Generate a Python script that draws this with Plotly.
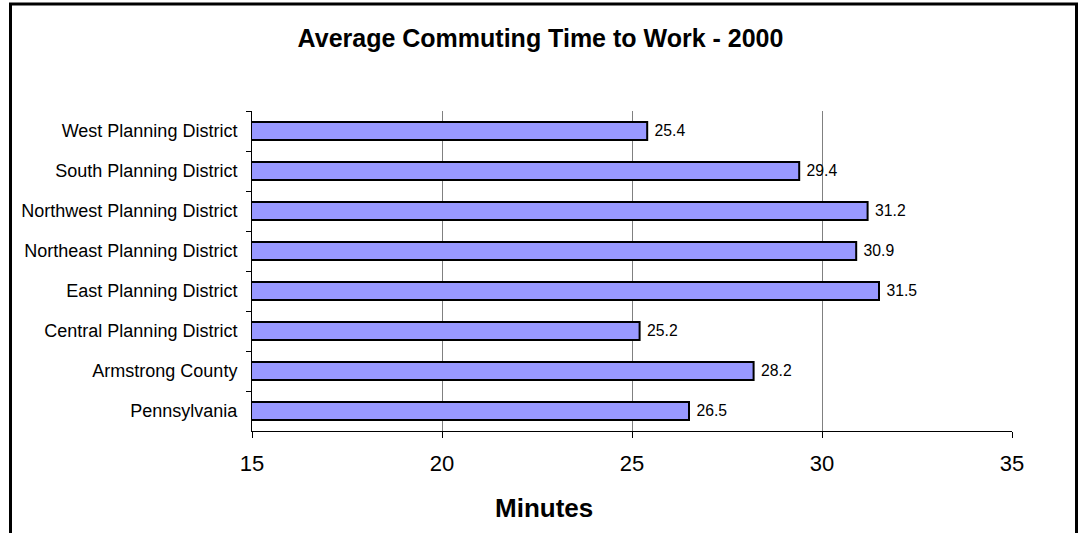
import plotly.graph_objects as go

categories = [
    "West Planning District",
    "South Planning District",
    "Northwest Planning District",
    "Northeast Planning District",
    "East Planning District",
    "Central Planning District",
    "Armstrong County",
    "Pennsylvania",
]
minutes = [25.4, 29.4, 31.2, 30.9, 31.5, 25.2, 28.2, 26.5]
x_ticks = [15, 20, 25, 30, 35]
grid_ticks = [20, 25, 30]

W, H = 1081, 533
L, R, T, B = 252, 1012, 111, 431
pw, ph = R - L, B - T

def px_x(p):
    return (p - L) / pw

def px_y(p):
    return (B - p) / ph

fig = go.Figure()
fig.add_trace(go.Bar(
    y=categories, x=minutes, orientation="h", base=0,
    marker=dict(color="#9999FF", line=dict(color="black", width=2)),
    width=0.45,
    text=[f"{v:.1f}" for v in minutes],
    texttemplate=" %{text}",
    textposition="outside",
    cliponaxis=False,
    textfont=dict(family="Liberation Sans, Arial", size=17.5, color="black"),
    xaxis="x", yaxis="y",
))
# invisible trace on second axis to show gridlines
fig.add_trace(go.Scatter(x=[15, 35], y=[categories[0], categories[0]], mode="markers",
                         marker=dict(opacity=0), xaxis="x2", yaxis="y",
                         hoverinfo="skip", showlegend=False))

fig.update_layout(
    width=W, height=H,
    margin=dict(l=L, r=W - R, t=T, b=H - B),
    paper_bgcolor="white", plot_bgcolor="white",
    showlegend=False,
    font=dict(family="Liberation Sans, Arial", color="black"),
    title=dict(text="<b>Average Commuting Time to Work - 2000</b>",
               x=0.5, xref="container", xanchor="center",
               y=1 - 38 / H, yref="container", yanchor="middle",
               font=dict(size=25, color="black")),
    xaxis=dict(range=[15, 35], tickvals=x_ticks, showgrid=False, zeroline=False,
               showline=True, linecolor="black", linewidth=1,
               ticks="outside", ticklen=6, tickcolor="black",
               tickfont=dict(size=22), ticklabelstandoff=7),
    xaxis2=dict(range=[15, 35], overlaying="x", tickvals=grid_ticks, showgrid=True,
                gridcolor="#808080", gridwidth=1, showticklabels=False, ticks="",
                zeroline=False, showline=False, side="bottom", layer="below traces"),
    yaxis=dict(autorange="reversed", showline=True, linecolor="black", linewidth=1,
               ticks="outside", ticklen=5, tickcolor="black", tickson="boundaries",
               showgrid=False, tickfont=dict(size=18), ticklabelstandoff=10),
    bargap=0.55,
    annotations=[dict(text="<b>Minutes</b>", xref="paper", yref="paper",
                      x=px_x(544), y=px_y(508), xanchor="center", yanchor="middle",
                      showarrow=False, font=dict(size=26, color="black"))],
    shapes=[dict(type="rect", xref="paper", yref="paper",
                 x0=px_x(10.5), x1=px_x(1076.5), y0=px_y(545), y1=px_y(4),
                 line=dict(color="black", width=3), fillcolor="rgba(0,0,0,0)",
                 layer="above")],
)

fig.write_html("out.html", config={"displayModeBar": False},
               post_script="document.body.style.margin='0';")
